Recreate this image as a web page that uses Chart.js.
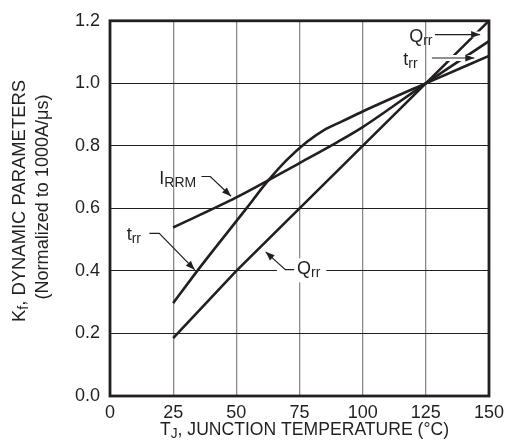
<!DOCTYPE html>
<html>
<head>
<meta charset="utf-8">
<script src="https://cdn.jsdelivr.net/npm/chart.js@4"></script>
<style>
  html, body { margin: 0; padding: 0; background: #fff; }
</style>
</head>
<body>
<canvas id="chart" width="510" height="444"></canvas>
<script>
// values (x = junction temperature, y = normalized K_f)
var qrrTemps = [25, 50, 75, 100, 125, 150];
var qrrValues = [0.185, 0.4, 0.6, 0.8, 1.0, 1.2];

var trrTemps = [25, 35, 54, 62, 70, 78, 85, 92, 100, 125, 150];
var trrValues = [0.297, 0.405, 0.6, 0.683, 0.755, 0.813, 0.852, 0.879, 0.91, 1.0, 1.088];

var irrmTemps = [25, 50, 75, 90, 100, 125, 150];
var irrmValues = [0.539, 0.635, 0.745, 0.812, 0.86, 1.0, 1.135];

var xTicks = [0, 25, 50, 75, 100, 125, 150];
var yTicks = [0.0, 0.2, 0.4, 0.6, 0.8, 1.0, 1.2];

var INK = "#231f20";
var FONT = "'Liberation Sans', Arial, Helvetica, sans-serif";

function toPoints(xs, ys) {
  return xs.map(function (x, i) { return { x: x, y: ys[i] }; });
}

// callout labels, placed in data units
var callouts = [
  { text: [["I", 0], ["RRM", 1]], at: [19.5, 0.677], path: [[36.2, 0.702], [39.7, 0.702], [47.9, 0.639]] },
  { text: [["t", 0], ["rr", 1]], at: [6.6, 0.498], path: [[15.6, 0.52], [19.5, 0.52], [33.5, 0.404]] },
  { text: [["Q", 0], ["rr", 1]], at: [74, 0.389], path: [[72.9, 0.404], [69.4, 0.404], [61.6, 0.461]], box: true },
  { text: [["Q", 0], ["rr", 1]], at: [118.4, 1.131], path: [[128.6, 1.156], [146.5, 1.156]], halo: true },
  { text: [["t", 0], ["rr", 1]], at: [116.1, 1.059], path: [[127.4, 1.081], [144.2, 1.081]], halo: true }
];

function richWidth(ctx, parts) {
  var w = 0;
  parts.forEach(function (p) {
    ctx.font = (p[1] ? "14px " : "18px ") + FONT;
    w += ctx.measureText(p[0]).width;
  });
  return w;
}

function drawRich(ctx, parts, x, y) {
  var cx = x;
  parts.forEach(function (p) {
    ctx.font = (p[1] ? "14px " : "18px ") + FONT;
    ctx.fillText(p[0], cx, p[1] ? y + 3 : y);
    cx += ctx.measureText(p[0]).width;
  });
}

// draw text squeezed to a given width, centred on (0,0) after transforms
function drawFitted(ctx, parts, width) {
  var w = richWidth(ctx, parts);
  var sx = width / w;
  ctx.save();
  ctx.scale(sx, 1);
  drawRich(ctx, parts, -w / 2, 0);
  ctx.restore();
}

function arrowHead(ctx, from, to) {
  var ang = Math.atan2(to[1] - from[1], to[0] - from[0]);
  var len = 9, half = 3.5;
  ctx.beginPath();
  ctx.moveTo(to[0], to[1]);
  ctx.lineTo(to[0] - len * Math.cos(ang) + half * Math.sin(ang), to[1] - len * Math.sin(ang) - half * Math.cos(ang));
  ctx.lineTo(to[0] - len * Math.cos(ang) - half * Math.sin(ang), to[1] - len * Math.sin(ang) + half * Math.cos(ang));
  ctx.closePath();
  ctx.fill();
}

var decorPlugin = {
  id: "decor",
  afterDatasetsDraw: function (chart) {
    var ctx = chart.ctx;
    var xs = chart.scales.x, ys = chart.scales.y;
    var area = chart.chartArea;

    ctx.save();
    ctx.fillStyle = INK;
    ctx.strokeStyle = INK;
    ctx.textBaseline = "alphabetic";
    ctx.textAlign = "left";

    callouts.forEach(function (c) {
      var tx = xs.getPixelForValue(c.at[0]);
      var ty = ys.getPixelForValue(c.at[1]);
      var pts = c.path.map(function (p) {
        return [xs.getPixelForValue(p[0]), ys.getPixelForValue(p[1])];
      });
      if (c.box) {
        var w = richWidth(ctx, c.text);
        ctx.fillStyle = "#fff";
        ctx.fillRect(tx - 20, ty - 16, w + 26, 24);
        ctx.fillStyle = INK;
      }
      if (c.halo) {
        ctx.beginPath();
        ctx.moveTo(pts[0][0], pts[0][1]);
        for (var i = 1; i < pts.length; i++) ctx.lineTo(pts[i][0], pts[i][1]);
        ctx.strokeStyle = "#fff";
        ctx.lineWidth = 6;
        ctx.stroke();
        ctx.strokeStyle = INK;
      }
      ctx.beginPath();
      ctx.moveTo(pts[0][0], pts[0][1]);
      for (var j = 1; j < pts.length; j++) ctx.lineTo(pts[j][0], pts[j][1]);
      ctx.lineWidth = 1.2;
      ctx.stroke();
      arrowHead(ctx, pts[pts.length - 2], pts[pts.length - 1]);
      drawRich(ctx, c.text, tx, ty);
    });

    // frame
    ctx.lineWidth = 2.8;
    ctx.strokeStyle = INK;
    ctx.strokeRect(area.left, area.top, area.right - area.left, area.bottom - area.top);

    // x axis title
    ctx.save();
    ctx.translate((area.left + area.right) / 2 + 5, 435);
    drawFitted(ctx, [["T", 0], ["J", 1], [", JUNCTION TEMPERATURE (\u00B0C)", 0]], 289);
    ctx.restore();

    // y axis title (two lines, rotated)
    ctx.save();
    ctx.translate(25, 201);
    ctx.rotate(-Math.PI / 2);
    drawFitted(ctx, [["K", 0], ["f", 1], [", DYNAMIC PARAMETERS", 0]], 242);
    ctx.restore();
    ctx.save();
    ctx.translate(48, 197);
    ctx.rotate(-Math.PI / 2);
    drawFitted(ctx, [["(Normalized to 1000A/\u03BCs)", 0]], 205);
    ctx.restore();

    ctx.restore();
  }
};

function lineSet(label, xs, ys, monotone) {
  return {
    label: label,
    data: toPoints(xs, ys),
    borderColor: INK,
    borderWidth: 2.6,
    pointRadius: 0,
    fill: false,
    tension: 0,
    cubicInterpolationMode: monotone ? "monotone" : "default"
  };
}

var ctx = document.getElementById("chart").getContext("2d");
new Chart(ctx, {
  type: "line",
  data: {
    datasets: [
      lineSet("Qrr", qrrTemps, qrrValues, false),
      lineSet("trr", trrTemps, trrValues, true),
      lineSet("IRRM", irrmTemps, irrmValues, true)
    ]
  },
  options: {
    responsive: false,
    animation: false,
    layout: { padding: { top: 13, right: 15, left: 0, bottom: 0 } },
    plugins: { legend: { display: false }, tooltip: { enabled: false } },
    scales: {
      x: {
        type: "linear",
        min: 0,
        max: 150,
        afterBuildTicks: function (scale) {
          scale.ticks = xTicks.map(function (v) { return { value: v }; });
        },
        afterFit: function (scale) { scale.height = 48; },
        border: { display: false },
        grid: {
          drawTicks: false,
          color: function (c) {
            var v = c.tick ? c.tick.value : null;
            return v === 0 || v === 150 ? "rgba(0,0,0,0)" : "#8a8a8a";
          },
          lineWidth: 1.3
        },
        ticks: {
          padding: 6,
          color: INK,
          font: { family: FONT, size: 18 },
          maxRotation: 0,
          autoSkip: false
        }
      },
      y: {
        min: 0,
        max: 1.2,
        afterBuildTicks: function (scale) {
          scale.ticks = yTicks.map(function (v) { return { value: v }; });
        },
        afterFit: function (scale) { scale.width = 110; },
        border: { display: false },
        grid: {
          drawTicks: false,
          color: function (c) {
            var v = c.tick ? c.tick.value : null;
            return v === 0 || v === 1.2 ? "rgba(0,0,0,0)" : INK;
          },
          lineWidth: 1
        },
        ticks: {
          padding: 10,
          color: INK,
          font: { family: FONT, size: 18 },
          autoSkip: false,
          callback: function (v) { return Number(v).toFixed(1); }
        }
      }
    }
  },
  plugins: [decorPlugin]
});
</script>
</body>
</html>
